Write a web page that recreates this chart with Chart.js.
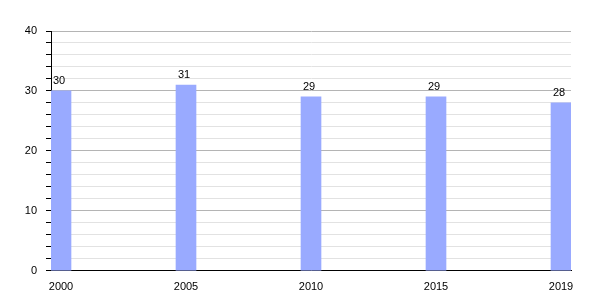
<!DOCTYPE html>
<html>
<head>
<meta charset="utf-8">
<script src="https://cdn.jsdelivr.net/npm/chart.js@4"></script>
<style>
  html, body { margin: 0; padding: 0; background: #fff; }
  #wrap { width: 600px; height: 300px; }
</style>
</head>
<body>
<div id="wrap"><canvas id="chart"></canvas></div>
<script>
const years = ["2000", "2005", "2010", "2015", "2019"];   // category labels
const values = [30, 31, 29, 29, 28];                      // bar heights
const yTicks = [0, 10, 20, 30, 40];                       // labelled y ticks

// value labels on top of each bar
const barLabels = {
  id: 'barLabels',
  afterDatasetsDraw(chart) {
    const ctx = chart.ctx;
    const meta = chart.getDatasetMeta(0);
    ctx.save();
    ctx.font = "11px 'Liberation Sans', Arial, sans-serif";
    ctx.fillStyle = '#000';
    ctx.textAlign = 'center';
    ctx.textBaseline = 'alphabetic';
    meta.data.forEach(function (bar, i) {
      ctx.fillText(String(values[i]), bar.x - 2, bar.y - 7);
    });
    ctx.restore();
  }
};

Chart.defaults.font.family = "'Liberation Sans', Arial, sans-serif";
Chart.defaults.font.size = 11;
Chart.defaults.color = '#000';

new Chart(document.getElementById('chart'), {
  type: 'bar',
  data: {
    datasets: [{
      data: values.map(function (v, i) { return { x: i, y: v }; }),
      backgroundColor: '#99aaff',
      barThickness: 20
    }]
  },
  options: {
    responsive: true,
    maintainAspectRatio: false,
    animation: false,
    layout: { padding: { left: 0, right: 29, top: 31, bottom: 4 } },
    plugins: { legend: { display: false }, tooltip: { enabled: false } },
    scales: {
      x: {
        type: 'linear',
        offset: false,
        min: -0.08,
        max: 4.08,
        afterBuildTicks: function (scale) {
          scale.ticks = years.map(function (y, i) { return { value: i }; });
        },
        ticks: {
          autoSkip: false,
          maxRotation: 0,
          padding: 2,
          callback: function (v) { return years[v]; }
        },
        grid: { display: false },
        border: { display: true, color: '#000', width: 1 }
      },
      y: {
        min: 0,
        max: 40,
        afterFit: function (scale) { scale.width = 51; },
        ticks: {
          stepSize: 2,
          autoSkip: false,
          padding: 9,
          callback: function (v) { return yTicks.includes(v) ? String(v) : ''; }
        },
        grid: {
          color: function (c) { return c.tick && c.tick.value % 10 === 0 ? '#b4b4b4' : '#e2e2e2'; },
          tickColor: '#000',
          tickLength: 5
        },
        border: { display: true, color: '#000', width: 1 }
      }
    }
  },
  plugins: [barLabels]
});
</script>
</body>
</html>
